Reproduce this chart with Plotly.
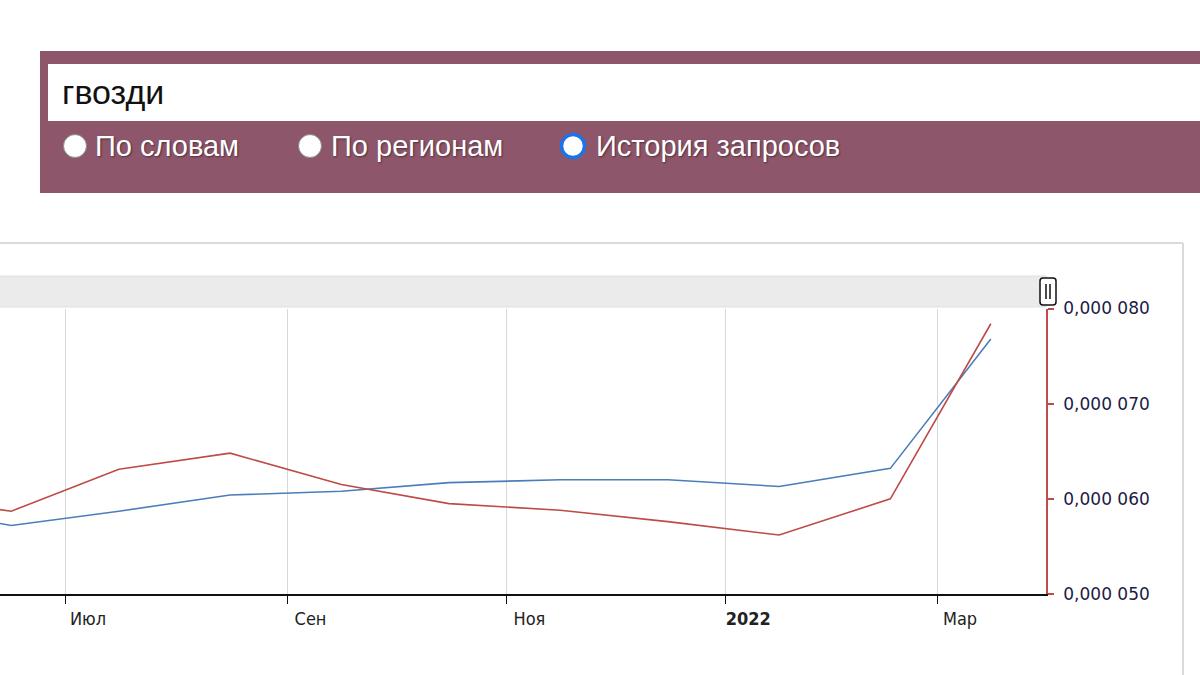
import plotly.graph_objects as go

# ---- data (values in units of share of queries) ----
dates = ["2021-05-16", "2021-06-16", "2021-07-16", "2021-08-16", "2021-09-16",
         "2021-10-16", "2021-11-16", "2021-12-16", "2022-01-16", "2022-02-16",
         "2022-03-16"]
absolute_blue = [0.0000593, 0.0000572, 0.0000587, 0.0000604, 0.0000608,
                 0.0000617, 0.0000620, 0.0000620, 0.0000613, 0.0000632,
                 0.0000768]
relative_red = [0.0000604, 0.0000587, 0.0000631, 0.0000648, 0.0000615,
                0.0000595, 0.0000588, 0.0000576, 0.0000562, 0.0000600,
                0.0000784]

x_tickvals = ["2021-07-01", "2021-09-01", "2021-11-01", "2022-01-01", "2022-03-01"]
x_ticktext = ["Июл", "Сен", "Ноя", "<b>2022</b>", "Мар"]
y_tickvals = [0.000050, 0.000060, 0.000070, 0.000080]
y_ticktext = ["0,000 050", "0,000 060", "0,000 070", "0,000 080"]

query_text = "гвозди"
radio_labels = ["По словам", "По регионам", "История запросов"]

W, H = 1200, 675
def px(x):
    return x / W
def py(y):
    return 1 - y / H

BLUE = "#4a7ebb"
RED = "#be4b48"
MAROON = "#8e566b"

fig = go.Figure()
fig.add_trace(go.Scatter(x=dates, y=absolute_blue, mode="lines",
                         line=dict(color=BLUE, width=1.6), showlegend=False))
fig.add_trace(go.Scatter(x=dates, y=relative_red, mode="lines",
                         line=dict(color=RED, width=1.6), showlegend=False))

shapes = []
# top maroon panel
shapes.append(dict(type="rect", xref="paper", yref="paper",
                   x0=px(40), x1=px(1205), y0=py(193), y1=py(51),
                   fillcolor=MAROON, line=dict(width=0), layer="below"))
# white input
shapes.append(dict(type="rect", xref="paper", yref="paper",
                   x0=px(48), x1=px(1205), y0=py(121), y1=py(64),
                   fillcolor="white", line=dict(width=0), layer="below"))
# chart container border
shapes.append(dict(type="line", xref="paper", yref="paper",
                   x0=px(-2), x1=px(1183), y0=py(243), y1=py(243),
                   line=dict(color="#dadada", width=2)))
shapes.append(dict(type="line", xref="paper", yref="paper",
                   x0=px(1183), x1=px(1183), y0=py(243), y1=py(680),
                   line=dict(color="#dadada", width=2)))
# navigator bar
shapes.append(dict(type="rect", xref="paper", yref="paper",
                   x0=px(-2), x1=px(1046), y0=py(307), y1=py(276),
                   fillcolor="#ebebeb", line=dict(color="#e0e0e0", width=1),
                   layer="below"))
# handle
shapes.append(dict(type="path", xref="paper", yref="paper",
                   path=("M {a},{b} L {c},{b} Q {d},{b} {d},{e} L {d},{f} Q {d},{g} {c},{g} "
                         "L {a},{g} Q {h},{g} {h},{f} L {h},{e} Q {h},{b} {a},{b} Z").format(
                       a=px(1043), c=px(1053), d=px(1056), h=px(1040),
                       b=py(278), e=py(281), f=py(302), g=py(305)),
                   fillcolor="white", line=dict(color="#111111", width=1.5)))
for hx in (1046, 1050):
    shapes.append(dict(type="line", xref="paper", yref="paper",
                       x0=px(hx), x1=px(hx), y0=py(284), y1=py(299),
                       line=dict(color="#111111", width=1.5)))

# radio buttons
radio_x = [75, 310, 573]
for i, cx in enumerate(radio_x):
    r = 11.5
    if i < 2:
        shapes.append(dict(type="circle", xref="paper", yref="paper",
                           x0=px(cx - r), x1=px(cx + r), y0=py(146 + r), y1=py(146 - r),
                           fillcolor="white", line=dict(color="#8a8a8a", width=1)))
    else:
        shapes.append(dict(type="circle", xref="paper", yref="paper",
                           x0=px(cx - r), x1=px(cx + r), y0=py(146 + r), y1=py(146 - r),
                           fillcolor="white", line=dict(color="#1a73e8", width=3.5)))

annotations = []
annotations.append(dict(text=query_text, xref="paper", yref="paper",
                        x=px(60), y=py(92), xanchor="left", yanchor="middle",
                        showarrow=False,
                        font=dict(family="Liberation Sans, Arial", size=34, color="#111111")))
label_x = [95, 331, 596]
for lx, t in zip(label_x, radio_labels):
    annotations.append(dict(text=t, xref="paper", yref="paper",
                            x=px(lx - 2), y=py(146), xanchor="left", yanchor="middle",
                            showarrow=False,
                            font=dict(family="Liberation Sans, Arial", size=29, color="white",
                                      shadow="1px 1px 2px rgba(0,0,0,0.45)")))

fig.update_layout(
    width=W, height=H,
    margin=dict(l=0, r=0, t=0, b=0, pad=0, autoexpand=False),
    paper_bgcolor="white", plot_bgcolor="white",
    shapes=shapes, annotations=annotations,
    xaxis=dict(domain=[0, 1046 / W],
               range=["2021-06-12 21:00", "2022-03-31 09:00"],
               type="date", automargin=False,
               tickvals=x_tickvals, ticktext=x_ticktext,
               ticks="outside", ticklen=8, tickcolor="#111111", tickwidth=1.2,
               showline=True, linecolor="#111111", linewidth=1.6,
               showgrid=True, gridcolor="#d8d8d8", gridwidth=1,
               zeroline=False, ticklabelshift=23, ticklabelstandoff=0,
               tickfont=dict(family="DejaVu Sans Condensed, DejaVu Sans", size=18, color="#222222"),
               fixedrange=True),
    yaxis=dict(domain=[1 - 594 / H, 1 - 308.5 / H], side="right",
               range=[0.000050, 0.000080], automargin=False,
               tickvals=y_tickvals, ticktext=y_ticktext,
               ticks="outside", ticklen=6, tickcolor=RED, tickwidth=1.5,
               showline=True, linecolor=RED, linewidth=1.8,
               showgrid=False, zeroline=False, ticklabelstandoff=6,
               tickfont=dict(family="DejaVu Sans, Verdana", size=17, color="#1c1c44"),
               fixedrange=True),
)

fig.write_html("out.html",
               config={"displayModeBar": False},
               post_script="document.body.style.margin='0';document.body.style.overflow='hidden';")
